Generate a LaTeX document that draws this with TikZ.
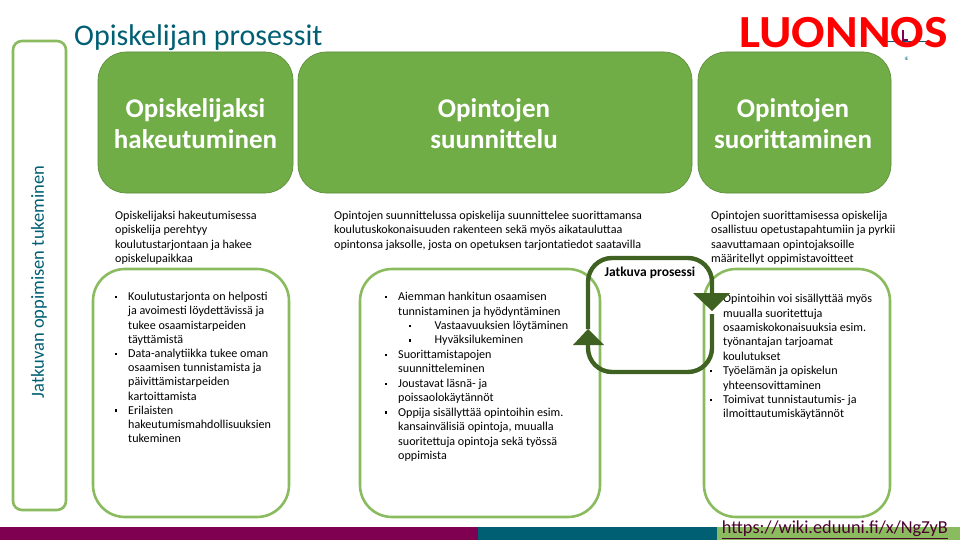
\documentclass[tikz,border=0pt]{standalone}
\usepackage{fontspec}
\setmainfont{Carlito}
\definecolor{gfill}{HTML}{70AD47}
\definecolor{gline}{HTML}{8ABB5E}
\definecolor{gdark}{HTML}{3F6222}
\definecolor{tealc}{HTML}{005F73}
\definecolor{purp}{HTML}{7F0050}
\tikzset{
 headbox/.style={fill=gfill,draw=gfill!80!black,line width=.6pt,rounded corners=28pt},
 outbox/.style={draw=gline,line width=2.6pt,rounded corners=32pt},
 headtxt/.style={text=white,font=\fontsize{27}{31}\selectfont\bfseries,align=center,anchor=center},
 bodytxt/.style={text=black,font=\fontsize{12.1}{14.3}\selectfont,align=left,anchor=north west,inner sep=0pt},
 listtxt/.style={text=black,align=left,anchor=north west,inner sep=0pt},
 loopline/.style={draw=gdark,line width=4.4pt,rounded corners=24pt},
 loophead/.style={fill=gdark,draw=none},
}
\newcommand{\blt}{\raisebox{2.2pt}{\rule{2.6pt}{2.6pt}}}
\newcommand{\itm}[1]{\makebox[13.5pt][l]{\blt}#1}
\newcommand{\cont}{\hspace*{13.5pt}}
\newcommand{\sitm}[1]{\hspace*{24pt}\makebox[26pt][l]{\blt}#1}
\begin{document}
\begin{tikzpicture}[x=1pt,y=-1pt]
\useasboundingbox (0,0) rectangle (960,540);
% bottom bar
\fill[purp] (0,527) rectangle (478,540);
\fill[tealc] (478,527) rectangle (717,540);
\fill[gline] (717,527) rectangle (960,540);
% logo remnants behind the stamp
\draw[tealc,line width=.8pt] (885,41) -- (928,41);
\draw[purp,line width=1.6pt] (903,30) -- (903,40) -- (908,40);
\node[font=\fontsize{5}{5}\selectfont,text=tealc,inner sep=0pt] (ie) at (906.5,58.5) {IE};
% side box
\draw[outbox,rounded corners=9pt] (13,41) rectangle (66,510);
\node[rotate=90,text=tealc,font=\fontsize{18.5}{20}\selectfont,inner sep=0pt] (side) at (39,282) {Jatkuvan oppimisen tukeminen};
% titles
\node[anchor=west,text=tealc,font=\fontsize{30}{32}\selectfont,inner sep=0pt] (title) at (74,37.5) {Opiskelijan prosessit};
\node[anchor=east,text=red,font=\fontsize{46}{48}\selectfont\bfseries,inner sep=0pt,xscale=1.08] (stamp) at (948,33) {LUONNOS};
% heads
\draw[headbox] (98,52) rectangle (293,193);
\draw[headbox] (298,52) rectangle (692,193);
\draw[headbox] (698,52) rectangle (891,193);
\node[headtxt] (h1) at (195.5,124) {Opiskelijaksi\\hakeutuminen};
\node[headtxt] (h2) at (494,124) {Opintojen\\suunnittelu};
\node[headtxt] (h3) at (793,124) {Opintojen\\suorittaminen};
% outline boxes
\draw[outbox] (93,269) rectangle (289,517);
\draw[outbox] (360,269) rectangle (600,517);
\draw[outbox] (704,269) rectangle (890,517);
% intro text
\node[bodytxt] (t1) at (115,211) {Opiskelijaksi hakeutumisessa\\opiskelija perehtyy\\koulutustarjontaan ja hakee\\opiskelupaikkaa};
\node[bodytxt] (t2) at (334,211) {Opintojen suunnittelussa opiskelija suunnittelee suorittamansa\\koulutuskokonaisuuden rakenteen sekä myös aikatauluttaa\\opintonsa jaksolle, josta on opetuksen tarjontatiedot saatavilla};
\node[bodytxt] (t3) at (711,211) {Opintojen suorittamisessa opiskelija\\osallistuu opetustapahtumiin ja pyrkii\\saavuttamaan opintojaksoille\\määritellyt oppimistavoitteet};
% lists
\node[listtxt,font=\fontsize{12.1}{14.2}\selectfont] (l1) at (114.5,292) {\itm{Koulutustarjonta on helposti}\\\cont ja avoimesti löydettävissä ja\\\cont tukee osaamistarpeiden\\\cont täyttämistä\\\itm{Data-analytiikka tukee oman}\\\cont osaamisen tunnistamista ja\\\cont päivittämistarpeiden\\\cont kartoittamista\\\itm{Erilaisten}\\\cont hakeutumismahdollisuuksien\\\cont tukeminen};
\node[listtxt,font=\fontsize{12.1}{14.45}\selectfont] (l2) at (384.5,292) {\itm{Aiemman hankitun osaamisen}\\\cont tunnistaminen ja hyödyntäminen\\\sitm{Vastaavuuksien löytäminen}\\\sitm{Hyväksilukeminen}\\\itm{Suorittamistapojen}\\\cont suunnitteleminen\\\itm{Joustavat läsnä- ja}\\\cont poissaolokäytännöt\\\itm{Oppija sisällyttää opintoihin esim.}\\\cont kansainvälisiä opintoja, muualla\\\cont suoritettuja opintoja sekä työssä\\\cont oppimista};
\node[listtxt,font=\fontsize{12.1}{14.4}\selectfont] (l3) at (709.5,294) {\itm{Opintoihin voi sisällyttää myös}\\\cont muualla suoritettuja\\\cont osaamiskokonaisuuksia esim.\\\cont työnantajan tarjoamat\\\cont koulutukset\\\itm{Työelämän ja opiskelun}\\\cont yhteensovittaminen\\\itm{Toimivat tunnistautumis- ja}\\\cont ilmoittautumiskäytännöt};
% loop
\coordinate (la) at (588,329);
\coordinate (lb) at (588,345);
\coordinate (ra) at (712,293);
\coordinate (rb) at (712,314);
\draw[loopline] (la) -- (588,258) -- (712,258) -- (ra);
\draw[loopline] (rb) -- (712,372) -- (588,372) -- (lb);
\fill[loophead] (573,345) -- (604,345) -- (588,329) -- cycle;
\fill[loophead] (693,293) -- (730,293) -- (712,311) -- cycle;
\node[anchor=center,font=\fontsize{13.5}{15}\selectfont\bfseries,inner sep=0pt,text=black] (loop) at (650,273) {Jatkuva prosessi};
% link
\node[anchor=east,text=purp!60!black,font=\fontsize{18.3}{20}\selectfont,inner sep=0pt] (link) at (948,530) {\underline{https://wiki.eduuni.fi/x/NgZyB}};
\end{tikzpicture}
\end{document}
